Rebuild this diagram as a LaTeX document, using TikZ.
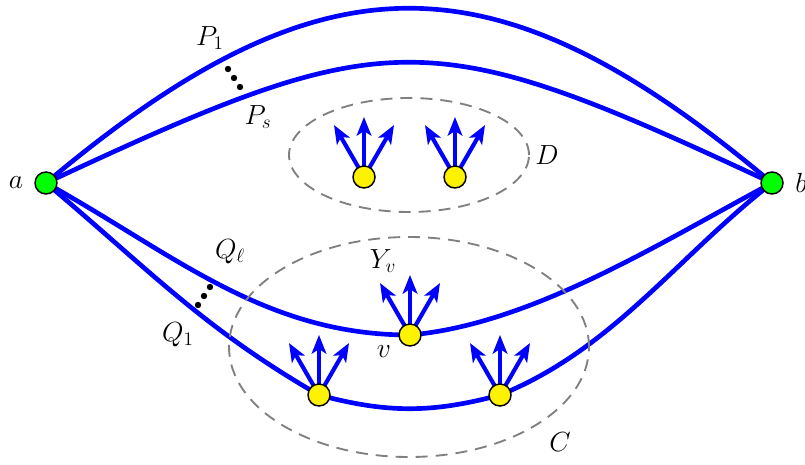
\documentclass[tikz,border=0pt]{standalone}
\usetikzlibrary{arrows.meta,shapes.geometric}
\pgfdeclarelayer{bg}
\pgfsetlayers{bg,main}
\begin{document}
\begin{tikzpicture}[x=0.75pt,y=0.75pt,
  font=\fontsize{22}{26}\selectfont,
  pathline/.style={blue, line width=3.5pt},
  vert/.style={circle, draw=black, line width=1.1pt, fill=yellow, minimum size=16.5pt, inner sep=0pt},
  term/.style={vert, fill=green},
  region/.style={ellipse, draw=gray, dash pattern=on 9pt off 6pt, line width=1.4pt, inner sep=0pt},
  outarr/.style={blue, line width=3.1pt, -{Stealth[length=14pt,width=11pt,inset=3.5pt]}},
  lbl/.style={inner sep=0pt},
  bdot/.style={circle, fill=black, minimum size=4.8pt, inner sep=0pt}]
\useasboundingbox (0,0) rectangle (805,464);
% regions
\node[region, minimum width=180pt, minimum height=85.5pt] (D) at (409,309) {};
\node[region, minimum width=270pt, minimum height=165pt] (C) at (409,117) {};
% vertices
\node[term] (a) at (46,281) {};
\node[term] (b) at (772,281) {};
\node[vert] (d1) at (364,287) {};
\node[vert] (d2) at (455,287) {};
\node[vert] (v) at (410,129) {};
\node[vert] (c1) at (319,69) {};
\node[vert] (c2) at (500,69) {};
% paths
\begin{pgfonlayer}{bg}
\draw[pathline] (a.center) .. controls (323,514) and (495,514) .. (b.center);
\draw[pathline] (a.center) .. controls (391,442) and (427,442) .. (b.center);
\draw[pathline] (a.center) to[out=-29,in=180,looseness=0.95] (v.center)
  to[out=5,in=-152,looseness=0.8] (b.center);
\draw[pathline] (a.center) to[out=-40,in=150] (c1.center)
  to[out=-15,in=195] (c2.center) to[out=22,in=-142,looseness=0.9] (b.center);
\foreach \n in {d1,d2,v,c1,c2}{
  \foreach \ang in {60,90,120}{
    \draw[outarr] (\n.center) -- ++(\ang:60);
  }
}
\end{pgfonlayer}
% labels
\node[lbl] (la) at (16,281) {$a$};
\node[lbl,anchor=west] (lb) at (795,281) {$b$};
\node[lbl] (lD) at (547,309) {$D$};
\node[lbl] (lC) at (560,22) {$C$};
\node[lbl] (lP1) at (210,426) {$P_1$};
\node[lbl] (lPs) at (258,347) {$P_s$};
\node[lbl] (lQl) at (230,212) {$Q_\ell$};
\node[lbl] (lQ1) at (178,129) {$Q_1$};
\node[lbl] (lYv) at (383,203) {$Y_v$};
\node[lbl] (lv) at (384,112) {$v$};
% dots
\node[bdot] (p1) at (228,395) {};
\node[bdot] (p2) at (234,386) {};
\node[bdot] (p3) at (240,377) {};
\node[bdot] (q1) at (210,177) {};
\node[bdot] (q2) at (204,168) {};
\node[bdot] (q3) at (198,159) {};
\end{tikzpicture}
\end{document}
